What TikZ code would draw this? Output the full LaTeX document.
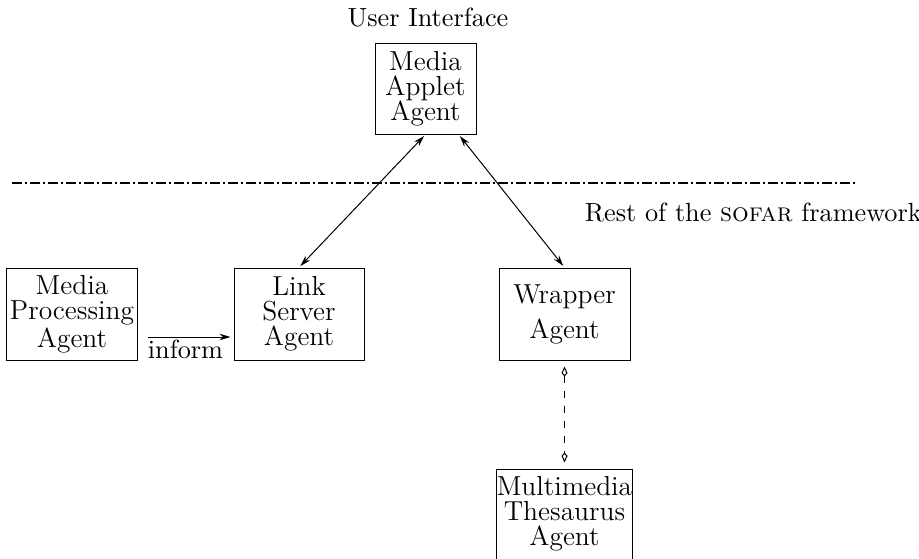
\documentclass[tikz,border=0pt]{standalone}
\usepackage{amsmath}
\usepackage{tikz}
\usetikzlibrary{arrows.meta,calc}

\tikzset{
  agent/.style={draw, align=center, inner sep=0pt,
    font=\fontsize{11}{10}\selectfont},
  label/.style={font=\fontsize{10.5}{12}\selectfont},
}

\begin{document}
\begin{tikzpicture}[x=0.4pt, y=-0.4pt, >={Stealth[length=4.4pt,width=2.6pt]}]
  \useasboundingbox (0,0) rectangle (919,559);
  \node[label] (ui) at (428,18) {User Interface};
  \node[label, anchor=west] (rest) at (576,213) {Rest of the \textsc{sofar} framework};
  \node[agent, minimum width=40.4pt, minimum height=36pt] (applet) at (425.5,89) {Media\\Applet\\Agent};
  \node[agent, minimum width=52pt, minimum height=36.8pt] (proc) at (72,314) {Media\\Processing\\Agent};
  \node[agent, minimum width=52pt, minimum height=36.8pt] (link) at (299,314) {Link\\Server\\Agent};
  \node[agent, minimum width=52.4pt, minimum height=36.8pt] (wrap) at (564.5,314) {Wrapper\\[4pt]Agent};
  \node[agent, minimum width=52.4pt, minimum height=36pt] (thes) at (564.5,514) {Multimedia\\Thesaurus\\Agent};
  \coordinate (cutL) at (12,183);
  \coordinate (cutR) at (855,183);
  \draw[line width=0.9pt, dash pattern=on 4pt off 1.2pt on 0.8pt off 1.2pt] (cutL) -- (cutR);
  \draw[<->, shorten <=0.8pt, shorten >=0.8pt] (applet.south) -- (link.north);
  \draw[<->, shorten <=0.8pt, shorten >=0.8pt] ($(applet.south)!0.65!(applet.south east)$) -- (wrap.north);
  \draw[->, shorten <=4pt, shorten >=1.2pt] ([yshift=-9.2pt]proc.east) -- node[label, below, inner sep=1pt] {inform} ([yshift=-9.2pt]link.west);
  \draw[{Kite[open,length=4pt,width=2.4pt,inset=1.4pt]}-{Kite[open,length=4pt,width=2.4pt,inset=1.4pt]}, dashed, shorten <=2.4pt, shorten >=2.4pt] (wrap.south) -- (thes.north);
\end{tikzpicture}
\end{document}
